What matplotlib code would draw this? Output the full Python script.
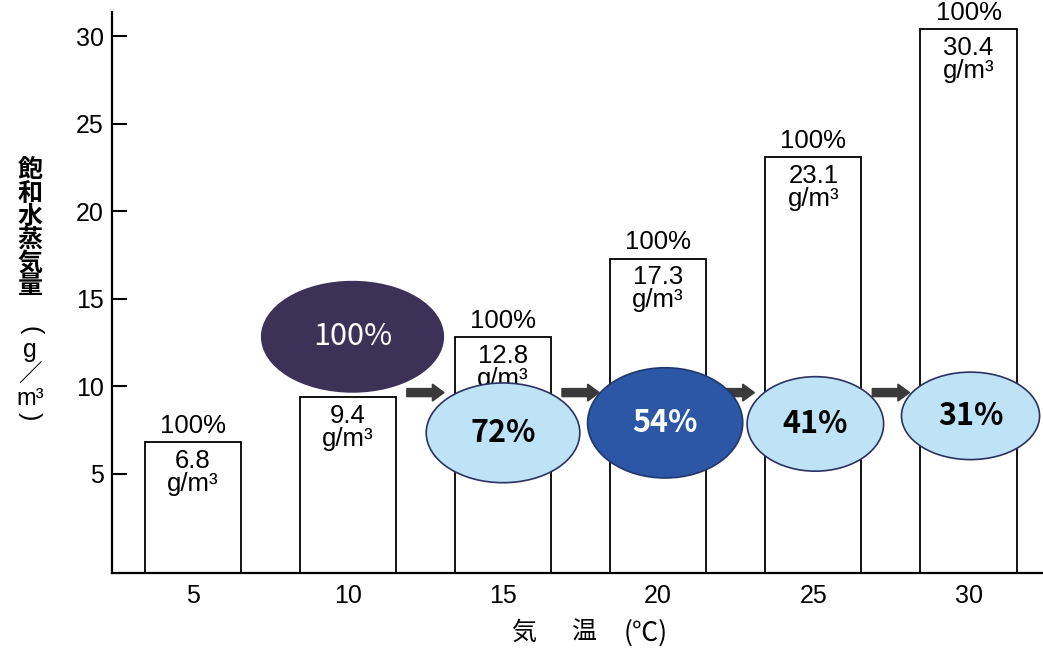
import matplotlib
matplotlib.use("Agg")
import matplotlib.pyplot as plt
from matplotlib.patches import Ellipse, FancyArrow

# ---- data ----
temps = [5, 10, 15, 20, 25, 30]                    # 気温 (℃)
sat_vapor = [6.8, 9.4, 12.8, 17.3, 23.1, 30.4]     # 飽和水蒸気量 (g/m3)
sat_rh = ["100%"] * 6                              # label above each bar
rel_humidity = ["100%", "72%", "54%", "41%", "31%"]  # for 10,15,20,25,30 ℃
y_ticks = [5, 10, 15, 20, 25, 30]

# ---- layout / style ----
ell_idx = [1, 2, 3, 4, 5]
ell_dx = [0.03, 0.0, 0.045, 0.013, 0.013]
ell_y = [12.84, 7.35, 7.92, 7.86, 8.32]
ell_w = [1.17, 0.99, 1.0, 0.88, 0.89]
ell_h = [6.3, 5.7, 6.3, 5.4, 5.0]
ell_face = ["#3c3157", "#bee3f6", "#2b57a6", "#bee3f6", "#bee3f6"]
ell_edge = ["#3c3157", "#2c3260", "#22376a", "#2c3260", "#2c3260"]
ell_text = ["white", "black", "white", "black", "black"]
ell_weight = ["normal", "bold", "bold", "bold", "bold"]

YMIN, YMAX = -0.66, 31.4
FONT = "Liberation Sans"
CJK = ["Noto Sans CJK JP", "DejaVu Sans"]

fig = plt.figure(figsize=(10.43, 6.48), dpi=100)
W, H = 1043, 648
ax = fig.add_axes([112 / W, 1 - 573 / H, (W - 112) / W, (573 - 12) / H])

x = list(range(len(temps)))
ax.bar(x, [v - YMIN for v in sat_vapor], bottom=YMIN, width=0.62,
       color="white", edgecolor="black", linewidth=1.3, zorder=2)

for i, v in enumerate(sat_vapor):
    ax.annotate(sat_rh[i], (i, v), xytext=(0, 12), textcoords="offset points",
                ha="center", va="center", fontsize=18.5, family=FONT, zorder=3)
    ax.annotate(f"{v:.1f}", (i, v), xytext=(0, -13.5), textcoords="offset points",
                ha="center", va="center", fontsize=18.5, family=FONT, zorder=3)
    ax.annotate("g/m³", (i, v), xytext=(0, -30), textcoords="offset points",
                ha="center", va="center", fontsize=18.5, family=FONT, zorder=3)

# arrows between bars
for i in range(1, len(temps) - 1):
    ax.add_patch(FancyArrow(i + 0.38, 9.65, 0.24, 0, width=0.46, head_width=0.97,
                            head_length=0.075, length_includes_head=True,
                            color="#3a3a3a", zorder=4))

# humidity ellipses
for k, idx in enumerate(ell_idx):
    ax.add_patch(Ellipse((idx + ell_dx[k], ell_y[k]), ell_w[k], ell_h[k],
                         facecolor=ell_face[k], edgecolor=ell_edge[k],
                         linewidth=1.2, zorder=5, clip_on=False))
    ax.text(idx + ell_dx[k], ell_y[k], rel_humidity[k], ha="center", va="center",
            fontsize=22, color=ell_text[k], weight=ell_weight[k],
            family=CJK, zorder=6)

ax.set_xlim(-0.52, 5.48)
ax.set_ylim(YMIN, YMAX)
ax.set_xticks(x)
ax.set_xticklabels([str(t) for t in temps], fontsize=18, family=FONT)
ax.set_yticks(y_ticks)
ax.set_yticklabels([str(t) for t in y_ticks], fontsize=18, family=FONT)
ax.tick_params(axis="x", length=0, pad=8)
ax.tick_params(axis="y", direction="in", length=11, width=1.5, pad=6)
for s in ["top", "right"]:
    ax.spines[s].set_visible(False)
for s in ["left", "bottom"]:
    ax.spines[s].set_linewidth(1.6)

# x label
fig.text(524 / W, 1 - 633 / H, "気", ha="center", va="center",
         fontsize=18, family=CJK)
fig.text(584 / W, 1 - 633 / H, "温", ha="center", va="center",
         fontsize=18, family=CJK)
fig.text(646 / W, 1 - 633 / H, "(℃)", ha="center", va="center",
         fontsize=19, family=CJK)

# vertical y label
ylab = ["飽", "和", "水", "蒸", "気", "量", "(", "g", "／", "m³", ")"]
ylab_y = [170, 194, 217, 241, 264, 286, 330, 350, 375, 399, 416]
ylab_rot = [0, 0, 0, 0, 0, 0, -90, 0, 0, 0, -90]
ylab_fam = [CJK] * 6 + [FONT, FONT, CJK, FONT, FONT]
ylab_size = [18] * 6 + [18, 18, 17, 17, 18]
for ch, py, rot, fam, fs in zip(ylab, ylab_y, ylab_rot, ylab_fam, ylab_size):
    fig.text(30 / W, 1 - py / H, ch, ha="center", va="center", rotation=rot,
             fontsize=fs, family=fam, weight="bold" if py < 300 else "normal")

fig.savefig("out.png", dpi=100)
